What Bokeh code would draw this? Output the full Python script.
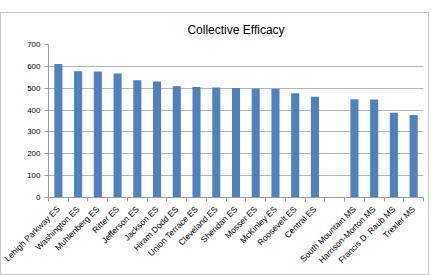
import math
from bokeh.plotting import figure
from bokeh.models import Range1d, FixedTicker, ColumnDataSource
from bokeh.embed import file_html
from bokeh.resources import INLINE

title = "Collective Efficacy"
es_schools = ["Lehigh Parkway ES", "Washington ES", "Muhlenberg ES", "Ritter ES",
              "Jefferson ES", "Jackson ES", "Hiram Dodd ES", "Union Terrace ES",
              "Cleveland ES", "Sheridan ES", "Mosser ES", "McKinley ES",
              "Roosevelt ES", "Central ES"]
es_values = [611, 578, 577, 567, 536, 531, 509, 506, 503, 501, 499, 497, 477, 461]
ms_schools = ["South Mountain MS", "Harrison-Morton MS", "Francis D. Raub MS", "Trexler MS"]
ms_values = [450, 448, 388, 378]
y_ticks = [0, 100, 200, 300, 400, 500, 600, 700]

labels = es_schools + [""] + ms_schools
xs = list(range(len(es_schools))) + list(range(len(es_schools) + 1, len(labels)))
vals = es_values + ms_values
src = ColumnDataSource(dict(x=xs, top=vals))

n = len(labels)
p = figure(width=429, height=263, output_backend="svg", toolbar_location=None,
           x_range=Range1d(-0.5, n - 0.5), y_range=Range1d(0, 700),
           min_border_left=47, min_border_right=7, min_border_bottom=79, min_border_top=8)
p.margin = (12, 0, 0, 0)
p.styles = {"border": "1px solid #c8c8c8", "box-sizing": "border-box"}

p.title.text = title
p.title.align = "center"
p.title.text_font = "Liberation Sans"
p.title.text_font_style = "normal"
p.title.text_font_size = "12px"
p.title.text_color = "#000000"
p.title.standoff = 15

p.vbar(x="x", top="top", width=0.41, source=src, fill_color="#4F81BD", line_color=None)

p.outline_line_color = None
p.xgrid.grid_line_color = None
p.ygrid.grid_line_color = "#b4b4b4"
p.ygrid.ticker = FixedTicker(ticks=y_ticks)

ya = p.yaxis[0]
ya.ticker = FixedTicker(ticks=y_ticks)
ya.axis_line_color = "#9a9a9a"
ya.major_tick_line_color = "#9a9a9a"
ya.major_tick_in = 0
ya.major_tick_out = 4
ya.minor_tick_line_color = None
ya.major_label_text_font = "Liberation Sans"
ya.major_label_text_font_size = "8px"
ya.major_label_text_color = "#000000"
ya.major_label_standoff = 4

xa = p.xaxis[0]
xa.ticker = FixedTicker(ticks=list(range(n)), minor_ticks=[i - 0.5 for i in range(n + 1)])
xa.major_label_overrides = {i: lab for i, lab in enumerate(labels)}
xa.major_label_orientation = math.pi / 4
xa.axis_line_color = "#9a9a9a"
xa.major_tick_line_color = None
xa.minor_tick_line_color = "#9a9a9a"
xa.minor_tick_in = 0
xa.minor_tick_out = 4
xa.major_label_text_font = "Liberation Sans"
xa.major_label_text_font_size = "8.5px"
xa.major_label_text_color = "#000000"
xa.major_label_standoff = 4

open("out.html", "w").write(file_html(p, INLINE))
